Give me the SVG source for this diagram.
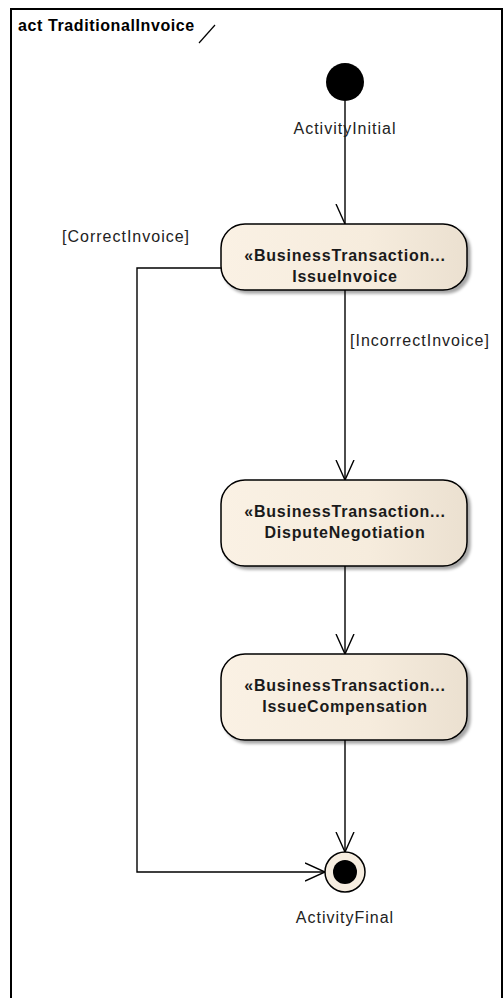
<svg xmlns="http://www.w3.org/2000/svg" width="504" height="998" viewBox="0 0 504 998">
<defs>
<linearGradient id="fill" x1="0" y1="0" x2="1" y2="0">
<stop offset="0" stop-color="#faf1e4"/>
<stop offset="0.6" stop-color="#f6ecdd"/>
<stop offset="1" stop-color="#ebe0d0"/>
</linearGradient>
<filter id="sh" x="-10%" y="-10%" width="130%" height="140%">
<feGaussianBlur in="SourceAlpha" stdDeviation="1.5"/>
<feOffset dx="3" dy="3" result="b"/>
<feComponentTransfer><feFuncA type="linear" slope="0.35"/></feComponentTransfer>
<feMerge><feMergeNode/><feMergeNode in="SourceGraphic"/></feMerge>
</filter>
<marker id="arr" markerWidth="24" markerHeight="24" refX="20" refY="10" orient="auto" markerUnits="userSpaceOnUse">
<path d="M0,1 L20,10 L0,19" fill="none" stroke="#000" stroke-width="1.4"/>
</marker>
<marker id="half" markerWidth="24" markerHeight="24" refX="20" refY="10" orient="auto" markerUnits="userSpaceOnUse">
<path d="M0,19 L20,10" fill="none" stroke="#000" stroke-width="1.4"/>
</marker>
</defs>
<style>
.frame{fill:none;stroke:#000;stroke-width:2}
.act{fill:url(#fill);stroke:#000;stroke-width:1.5;filter:url(#sh)}
.t{font-family:"Liberation Sans",Arial,sans-serif;font-size:16px;font-weight:bold;fill:#1a1a1a;text-anchor:middle;letter-spacing:0.8px}
.lbl{font-family:"Liberation Sans",Arial,sans-serif;font-size:16px;fill:#222;letter-spacing:1px}
.c{fill:none;stroke:#000;stroke-width:1.4}
.hdr{font-family:"Liberation Sans",Arial,sans-serif;font-size:16px;font-weight:bold;fill:#000;letter-spacing:0.6px}
</style>
<rect class="frame" x="11" y="9" width="491" height="995"/>
<text class="hdr" x="18" y="31">act TraditionalInvoice</text>
<line x1="199" y1="43" x2="215" y2="25" stroke="#000" stroke-width="1.2"/>

<g id="connectors">
<path class="c" d="M345,101 L345,224" marker-end="url(#half)"/>
<path class="c" d="M221,268 L137,268 L137,872 L325,872" marker-end="url(#arr)"/>
<path class="c" d="M345,290 L345,480" marker-end="url(#arr)"/>
<path class="c" d="M345,566 L345,654" marker-end="url(#arr)"/>
<path class="c" d="M345,740 L345,852" marker-end="url(#arr)"/>
<text class="lbl" x="62" y="242">[CorrectInvoice]</text>
<text class="lbl" x="350" y="346">[IncorrectInvoice]</text>
</g>

<g id="initial">
<circle cx="345" cy="82" r="19" fill="#000"/>
<text class="lbl" x="345" y="134" text-anchor="middle">ActivityInitial</text>
</g>

<g id="issueInvoice">
<rect class="act" x="221" y="224" width="246" height="66" rx="24"/>
<text class="t" x="345" y="261">«BusinessTransaction...</text>
<text class="t" x="345" y="282">IssueInvoice</text>
</g>

<g id="disputeNegotiation">
<rect class="act" x="221" y="480" width="246" height="86" rx="24"/>
<text class="t" x="345" y="517">«BusinessTransaction...</text>
<text class="t" x="345" y="538">DisputeNegotiation</text>
</g>

<g id="issueCompensation">
<rect class="act" x="221" y="654" width="246" height="86" rx="24"/>
<text class="t" x="345" y="691">«BusinessTransaction...</text>
<text class="t" x="345" y="712">IssueCompensation</text>
</g>

<g id="final">
<circle cx="345" cy="872" r="20" fill="#f6ede0" stroke="#000" stroke-width="1.5"/>
<circle cx="345" cy="872" r="12" fill="#000"/>
<text class="lbl" x="345" y="923" text-anchor="middle">ActivityFinal</text>
</g>
</svg>
